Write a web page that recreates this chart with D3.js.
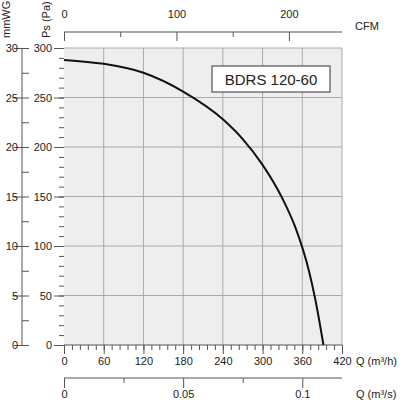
<!DOCTYPE html>
<html><head><meta charset="utf-8">
<script src="https://cdn.jsdelivr.net/npm/d3@7"></script>
<style>body{margin:0;background:#fff}text{font-family:Arial,"Liberation Sans",sans-serif;font-size:11px;fill:#222}</style>
</head><body><svg id="c" width="405" height="400"></svg>
<script>
var flowM3h = [0, 60, 120, 180, 240, 270, 300, 330, 350, 370, 380, 392];
var pressurePa = [288, 284, 275, 256, 228, 208, 182, 148, 118, 75, 45, 0];
var paTicks = [0, 50, 100, 150, 200, 250, 300];
var mmTicks = [0, 5, 10, 15, 20, 25, 30];
var cfmTicks = [0, 100, 200];
var m3sTicks = [0, 0.05, 0.1];
var modelName = 'BDRS 120-60';

var svg = d3.select('#c');
var L = 64, R = 342, T = 48, B = 345;
var x = d3.scaleLinear().domain([0, 420]).range([L, R]);
var y = d3.scaleLinear().domain([0, 300]).range([B, T]);
var yMm = d3.scaleLinear().domain([0, 30]).range([B, T]);
var xCfm = d3.scaleLinear().domain([0, 420 / 1.699]).range([L, R]);
var xS = d3.scaleLinear().domain([0, 420 / 3600]).range([L, R]);

svg.append('rect').attr('x', L).attr('y', T).attr('width', R - L).attr('height', B - T).attr('fill', '#eeeeee');
svg.append('g').selectAll('line').data(d3.range(60, 420, 60)).enter().append('line')
  .attr('x1', x).attr('x2', x).attr('y1', T).attr('y2', B).attr('stroke', '#aaa');
svg.append('g').selectAll('line').data(paTicks.slice(1)).enter().append('line')
  .attr('x1', L).attr('x2', R).attr('y1', y).attr('y2', y).attr('stroke', '#aaa');
svg.append('line').attr('x1', R).attr('x2', R).attr('y1', T).attr('y2', B).attr('stroke', '#aaa');

function styleAxis(g) {
  g.selectAll('path,line').attr('stroke', '#555');
  g.selectAll('text').style('font-size', '11px').attr('fill', '#222');
}
function minor(g, axis) { g.call(axis.tickFormat('').tickSize(5)); g.selectAll('path').remove(); styleAxis(g); }

// Pa axis
var gPa = svg.append('g').attr('transform', 'translate(' + L + ',0)');
minor(gPa, d3.axisLeft(y).tickValues(d3.range(0, 301, 10)));
gPa = svg.append('g').attr('transform', 'translate(' + L + ',0)')
  .call(d3.axisLeft(y).tickValues(paTicks).tickSize(10).tickPadding(2)); styleAxis(gPa);
gPa.select('path').remove();

// mmWG axis
var ax = 22;
var gMm = svg.append('g').attr('transform', 'translate(' + ax + ',0)');
gMm.call(d3.axisRight(yMm).tickValues(d3.range(0, 30.1, 2.5)).tickFormat('').tickSize(7)); styleAxis(gMm);
gMm.select('path').attr('d', 'M0,' + yMm(0) + 'V' + yMm(30));
var gMm2 = svg.append('g').attr('transform', 'translate(' + ax + ',0)')
  .call(d3.axisLeft(yMm).tickValues(mmTicks).tickSize(8).tickPadding(0)); styleAxis(gMm2);
gMm2.select('path').remove();
gMm2.selectAll('text').attr('x', -4);

// bottom m3/h
var gB = svg.append('g').attr('transform', 'translate(0,' + B + ')');
minor(gB, d3.axisBottom(x).tickValues(d3.range(0, 421, 12)));
var gB2 = svg.append('g').attr('transform', 'translate(0,' + B + ')')
  .call(d3.axisBottom(x).tickValues(d3.range(0, 421, 60)).tickSize(9).tickPadding(3)); styleAxis(gB2);
gB2.select('path').attr('d', 'M' + L + ',0H' + R);

// m3/s axis
var gS = svg.append('g').attr('transform', 'translate(0,378)');
gS.call(d3.axisTop(xS).tickValues([0.025, 0.075]).tickFormat('').tickSize(-5)); styleAxis(gS);
gS.select('path').attr('d', 'M' + L + ',0H' + R);
var gS2 = svg.append('g').attr('transform', 'translate(0,378)')
  .call(d3.axisBottom(xS).tickValues(m3sTicks).tickFormat(d3.format('')).tickSize(10).tickPadding(2)); styleAxis(gS2);
gS2.select('path').remove();

// CFM axis
var gC = svg.append('g').attr('transform', 'translate(0,32)');
gC.call(d3.axisBottom(xCfm).tickValues([50, 150]).tickFormat('').tickSize(5)); styleAxis(gC);
gC.select('path').attr('d', 'M' + L + ',0H' + R);
var gC2 = svg.append('g').attr('transform', 'translate(0,32)')
  .call(d3.axisTop(xCfm).tickValues(cfmTicks).tickSize(-9).tickPadding(14)); styleAxis(gC2);
gC2.select('path').remove();

// labels
svg.append('text').attr('x', 355).attr('y', 30).text('CFM');
svg.append('text').attr('x', 356).attr('y', 365).text('Q (m³/h)');
svg.append('text').attr('x', 356).attr('y', 398).text('Q (m³/s)');
svg.append('text').attr('transform', 'translate(50,38) rotate(-90)').text('Ps (Pa)');
svg.append('text').attr('transform', 'translate(10,38) rotate(-90)').text('mmWG');

// curve
var line = d3.line().x(function (d, i) { return x(flowM3h[i]); }).y(function (d) { return y(d); }).curve(d3.curveMonotoneX);
svg.append('path').attr('d', line(pressurePa)).attr('fill', 'none').attr('stroke', '#111').attr('stroke-width', 2);

// model box
svg.append('rect').attr('x', 212).attr('y', 66).attr('width', 118).attr('height', 26).attr('fill', '#fff').attr('stroke', '#333');
svg.append('text').attr('x', 271).attr('y', 85).attr('text-anchor', 'middle').style('font-size', '15px').text(modelName);
</script></body></html>
